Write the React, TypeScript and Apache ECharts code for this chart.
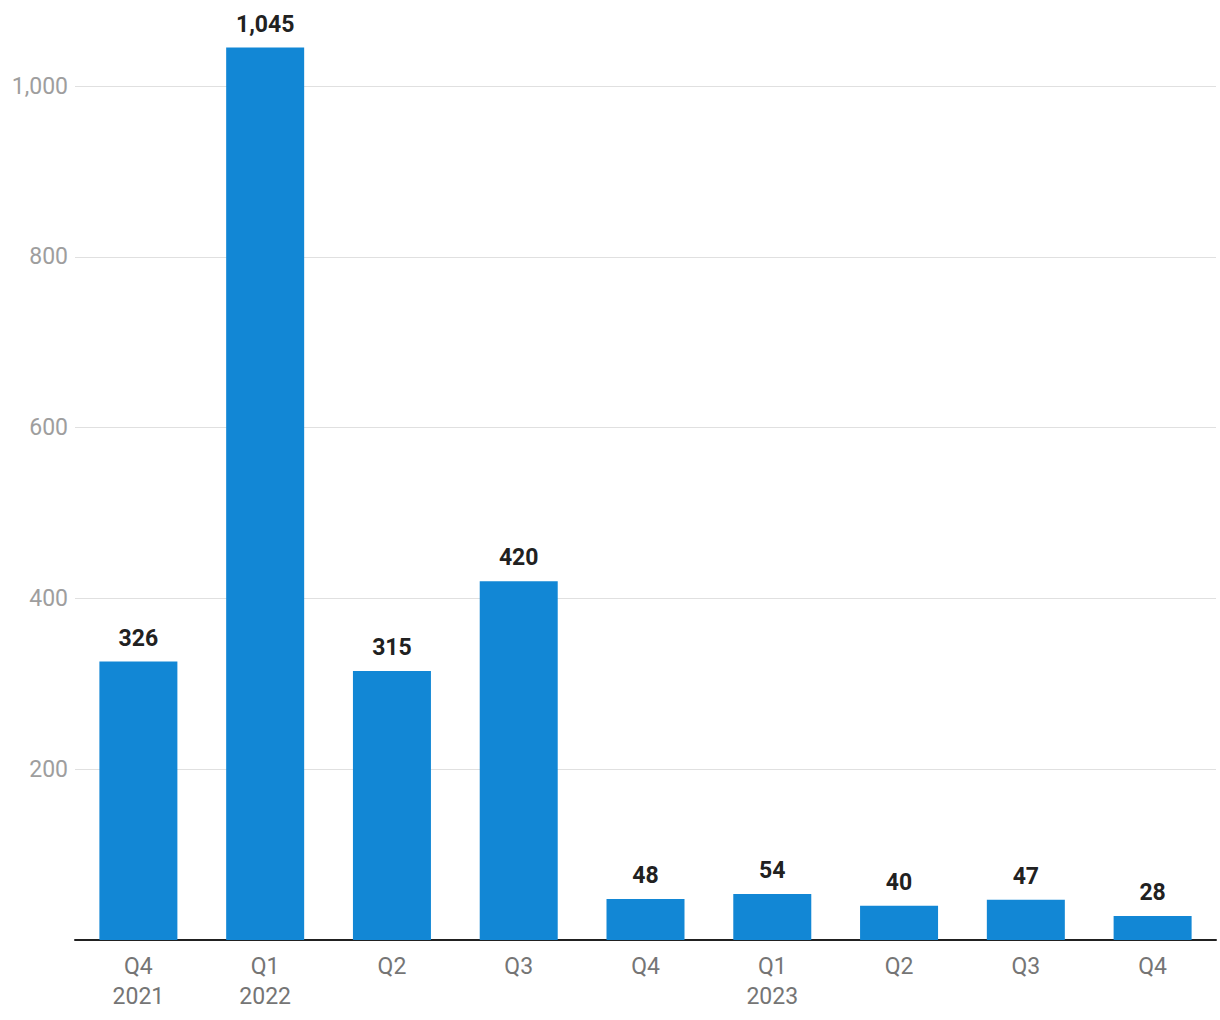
import React, { useEffect, useRef } from "react";
import * as echarts from "echarts";

const categories = ["Q4 2021", "Q1 2022", "Q2 2022", "Q3 2022", "Q4 2022", "Q1 2023", "Q2 2023", "Q3 2023", "Q4 2023"];
const tickLabels = ["Q4\n2021", "Q1\n2022", "Q2", "Q3", "Q4", "Q1\n2023", "Q2", "Q3", "Q4"];
const values = [326, 1045, 315, 420, 48, 54, 40, 47, 28];

const fmt = (v: number) => v.toLocaleString("en-US");

export default function App() {
  const ref = useRef<HTMLDivElement>(null);
  useEffect(() => {
    if (!ref.current) return;
    const chart = echarts.init(ref.current, null, { renderer: "svg" });
    chart.setOption({
      animation: false,
      textStyle: { fontFamily: "Roboto" },
      grid: { left: 75, right: 4, top: 86, bottom: 80, containLabel: false },
      xAxis: {
        type: "category",
        data: categories,
        axisLine: { show: true, lineStyle: { color: "#212121", width: 2 } },
        axisTick: { show: false },
        axisLabel: {
          formatter: (_v: string, i: number) => tickLabels[i],
          color: "#757575",
          fontSize: 23,
          lineHeight: 30,
          margin: 11,
          fontFamily: "Roboto",
        },
      },
      yAxis: {
        type: "value",
        min: 0,
        max: 1000,
        interval: 200,
        axisLine: { show: false },
        axisTick: { show: false },
        splitLine: { lineStyle: { color: "#e0e0e0", width: 1 } },
        axisLabel: {
          showMinLabel: false,
          formatter: (v: number) => fmt(v),
          color: "#9e9e9e",
          fontSize: 23,
          margin: 7,
          fontFamily: "Roboto",
        },
      },
      series: [
        {
          type: "bar",
          data: values,
          barWidth: 78,
          clip: false,
          itemStyle: { color: "#1287d5" },
          label: {
            show: true,
            position: "top",
            distance: 12,
            formatter: (p: any) => fmt(p.value),
            color: "#212121",
            fontWeight: "bold",
            fontSize: 23,
            fontFamily: "Roboto",
          },
        },
      ],
    });
    return () => chart.dispose();
  }, []);
  return (
    <div
      ref={ref}
      style={{ position: "fixed", left: 0, top: 0, width: 1220, height: 1020, background: "#fff" }}
    />
  );
}
